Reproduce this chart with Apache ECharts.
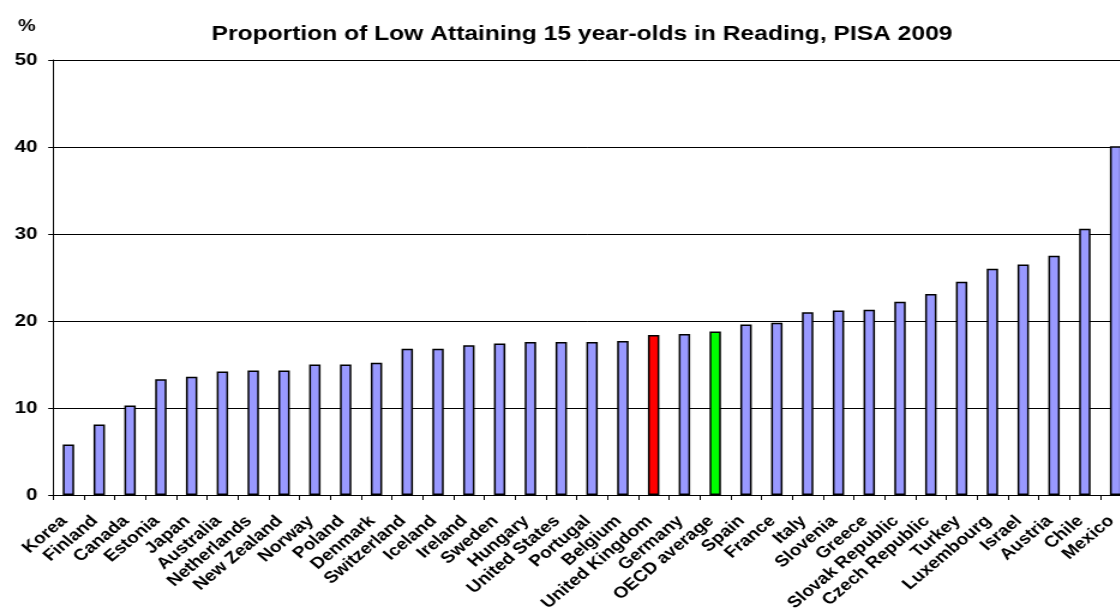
<!DOCTYPE html>
<html>
<head>
<meta charset="utf-8">
<title>Proportion of Low Attaining 15 year-olds in Reading, PISA 2009</title>
<script src="https://cdn.jsdelivr.net/npm/echarts@6/dist/echarts.min.js"></script>
<style>
  html, body { margin: 0; padding: 0; background: #fff; overflow: hidden; }
  /* The chart is laid out narrower and stretched 1.2x horizontally */
  #chart {
    width: 933.33px;
    height: 609px;
    transform: scaleX(1.2);
    transform-origin: 0 0;
  }
</style>
</head>
<body>
<div id="chart"></div>
<script>
// Countries ordered from lowest to highest share of low attainers
const countries = [
  'Korea', 'Finland', 'Canada', 'Estonia', 'Japan', 'Australia', 'Netherlands',
  'New Zealand', 'Norway', 'Poland', 'Denmark', 'Switzerland', 'Iceland', 'Ireland',
  'Sweden', 'Hungary', 'United States', 'Portugal', 'Belgium', 'United Kingdom',
  'Germany', 'OECD average', 'Spain', 'France', 'Italy', 'Slovenia', 'Greece',
  'Slovak Republic', 'Czech Republic', 'Turkey', 'Luxembourg', 'Israel', 'Austria',
  'Chile', 'Mexico'
];

// Percentage of 15 year-olds below proficiency level 2 in reading
const lowAttainers = [
  5.8, 8.1, 10.3, 13.3, 13.6, 14.2, 14.3,
  14.3, 15.0, 15.0, 15.2, 16.8, 16.8, 17.2,
  17.4, 17.6, 17.6, 17.6, 17.7, 18.4,
  18.5, 18.8, 19.6, 19.8, 21.0, 21.2, 21.3,
  22.2, 23.1, 24.5, 26.0, 26.5, 27.5,
  30.6, 40.1
];

const yTicks = [0, 10, 20, 30, 40, 50];

// Highlighted bars
const highlightColors = { 'United Kingdom': '#ff0000', 'OECD average': '#00ff00' };
const baseColor = '#9999ff';

const font = 'Arial, "Liberation Sans", Helvetica, sans-serif';

const chart = echarts.init(document.getElementById('chart'));

chart.setOption({
  animation: false,
  backgroundColor: '#ffffff',
  title: {
    text: 'Proportion of Low Attaining 15 year-olds in Reading, PISA 2009',
    left: 480,
    textAlign: 'center',
    top: 19,
    textStyle: { fontFamily: font, fontSize: 20.5, fontWeight: 'bold', color: '#000' }
  },
  graphic: [{
    type: 'text',
    left: 15,
    top: 18,
    style: { text: '%', font: 'bold 16.5px ' + font, fill: '#000' }
  }],
  grid: {
    left: 44.2, top: 60, width: 898.3, height: 435,
    containLabel: false,
    outerBoundsMode: 'none'
  },
  xAxis: {
    type: 'category',
    data: countries,
    axisLine: { show: true, lineStyle: { color: '#000', width: 1 } },
    axisTick: { show: true, length: 5, alignWithLabel: false, lineStyle: { color: '#000' } },
    axisLabel: {
      interval: 0,
      rotate: 45,
      margin: 20,
      padding: [0, 5, 0, 0],
      fontFamily: font,
      fontSize: 16,
      fontWeight: 'bold',
      color: '#000'
    }
  },
  yAxis: {
    type: 'value',
    min: yTicks[0],
    max: yTicks[yTicks.length - 1],
    interval: 10,
    axisLine: { show: true, lineStyle: { color: '#000', width: 1 } },
    axisTick: { show: true, length: 4, lineStyle: { color: '#000' } },
    splitLine: { show: true, lineStyle: { color: '#000', width: 1 } },
    axisLabel: {
      margin: 13,
      fontFamily: font,
      fontSize: 17,
      fontWeight: 'bold',
      color: '#000'
    }
  },
  series: [{
    type: 'bar',
    barWidth: 9.5,
    data: lowAttainers.map((v, i) => ({
      value: v,
      itemStyle: {
        color: highlightColors[countries[i]] || baseColor,
        borderColor: '#000',
        borderWidth: 1.5
      }
    }))
  }]
});
</script>
</body>
</html>
